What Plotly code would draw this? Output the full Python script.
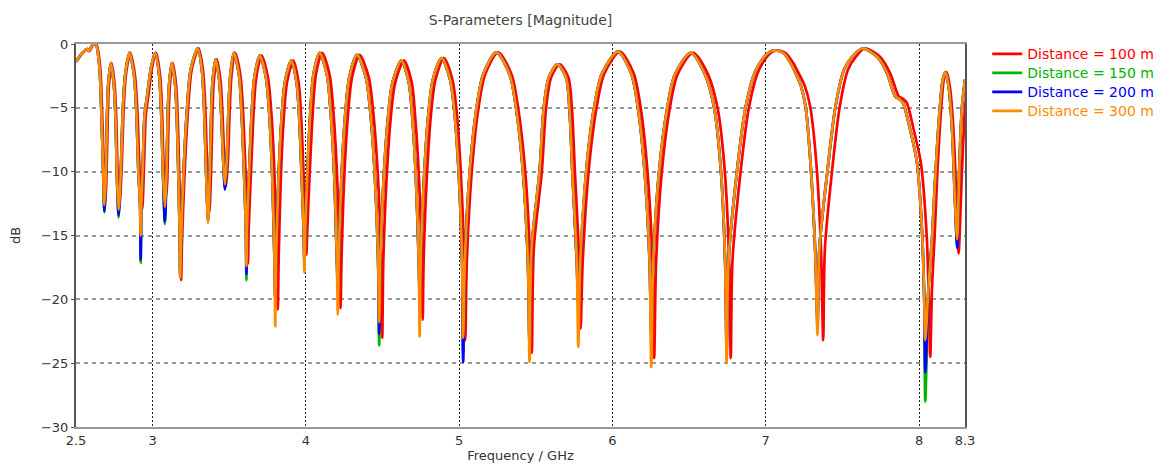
import plotly.graph_objects as go

# ---------------- data ----------------
# Non-dip points (flanks and peaks) shared by the 150/200/300 m curves
arch_freq_ref = [
    2.500, 2.541, 2.574, 2.584, 2.606, 2.628, 2.652, 2.664, 2.676,
    2.693, 2.702, 2.710, 2.727, 2.747, 2.758, 2.768,
    2.792, 2.806, 2.821, 2.849, 2.878, 2.893, 2.907, 2.918,
    2.927, 2.937, 2.948, 2.965, 2.990, 3.017, 3.042, 3.055, 3.067,
    3.089, 3.098, 3.107, 3.125, 3.147, 3.158, 3.169, 3.177,
    3.186, 3.203, 3.226, 3.248, 3.294, 3.321, 3.335, 3.348,
    3.372, 3.382, 3.391, 3.411, 3.435, 3.448, 3.460,
    3.484, 3.495, 3.507, 3.530, 3.563, 3.579, 3.596, 3.608,
    3.616, 3.629, 3.647, 3.664, 3.699, 3.739, 3.760, 3.780, 3.795,
    3.805, 3.821, 3.842, 3.863, 3.905, 3.939, 3.956, 3.973, 3.986,
    3.995, 4.010, 4.030, 4.049, 4.089, 4.137, 4.160, 4.184, 4.202,
    4.214, 4.233, 4.258, 4.283, 4.333, 4.391, 4.420, 4.449, 4.471,
    4.485, 4.507, 4.536, 4.565, 4.623, 4.671, 4.694, 4.718, 4.736,
    4.749, 4.771, 4.799, 4.828, 4.885, 4.941, 4.970, 4.998, 5.019,
    5.037, 5.069, 5.112, 5.156, 5.242, 5.329, 5.372, 5.416, 5.448,
    5.472, 5.524, 5.552, 5.585, 5.641, 5.697, 5.719, 5.738, 5.767,
    5.790, 5.829, 5.880, 5.932, 6.035, 6.122, 6.166, 6.209, 6.242,
    6.266, 6.304, 6.356, 6.407, 6.510, 6.604, 6.665, 6.708, 6.735,
    6.757, 6.812, 6.868, 6.930, 6.990, 7.030, 7.060, 7.115, 7.162, 7.195, 7.230, 7.260, 7.292, 7.322,
    7.350, 7.403, 7.455, 7.511, 7.565, 7.630, 7.727, 7.792, 7.844, 7.870, 7.895, 7.942, 7.987, 8.021, 8.034,
    8.062, 8.086, 8.108, 8.136, 8.155, 8.173, 8.195, 8.216, 8.236,
    8.262, 8.280, 8.300,
]

# Same flank/peak points for the 100 m curve (sits slightly to the right)
arch_freq_100 = [
    2.500, 2.543, 2.577, 2.588, 2.610, 2.632, 2.657, 2.669, 2.681,
    2.698, 2.707, 2.715, 2.732, 2.752, 2.763, 2.773,
    2.797, 2.811, 2.826, 2.854, 2.884, 2.900, 2.915, 2.926,
    2.935, 2.945, 2.956, 2.973, 2.997, 3.023, 3.048, 3.061, 3.073,
    3.095, 3.104, 3.113, 3.131, 3.153, 3.164, 3.175, 3.183,
    3.192, 3.210, 3.233, 3.255, 3.300, 3.328, 3.343, 3.356,
    3.380, 3.390, 3.399, 3.419, 3.443, 3.456, 3.468,
    3.492, 3.503, 3.515, 3.538, 3.572, 3.589, 3.606, 3.618,
    3.627, 3.641, 3.659, 3.676, 3.711, 3.752, 3.774, 3.795, 3.811,
    3.822, 3.836, 3.856, 3.877, 3.918, 3.952, 3.969, 3.986, 3.999,
    4.008, 4.025, 4.046, 4.065, 4.105, 4.154, 4.178, 4.202, 4.220,
    4.232, 4.251, 4.276, 4.301, 4.350, 4.410, 4.439, 4.469, 4.491,
    4.505, 4.526, 4.554, 4.583, 4.640, 4.690, 4.713, 4.738, 4.756,
    4.768, 4.789, 4.816, 4.845, 4.900, 4.956, 4.985, 5.012, 5.033,
    5.050, 5.082, 5.125, 5.169, 5.254, 5.342, 5.386, 5.431, 5.463,
    5.487, 5.539, 5.567, 5.600, 5.655, 5.712, 5.735, 5.755, 5.783,
    5.806, 5.845, 5.896, 5.947, 6.048, 6.138, 6.184, 6.228, 6.261,
    6.285, 6.322, 6.373, 6.424, 6.525, 6.624, 6.687, 6.733, 6.761,
    6.783, 6.836, 6.890, 6.950, 7.008, 7.045, 7.072, 7.128, 7.180, 7.215, 7.255, 7.290, 7.330, 7.360,
    7.386, 7.433, 7.483, 7.537, 7.588, 7.645, 7.745, 7.812, 7.868, 7.895, 7.920, 7.965, 8.012, 8.050, 8.064,
    8.085, 8.102, 8.120, 8.145, 8.162, 8.180, 8.203, 8.225, 8.246,
    8.280, 8.300, 8.320,
]

arch_db = [
    -1.4, -0.7, -0.4, -0.55, -0.1, 0.0, -1.7, -4.8, -9.5,
    -10.8, -5.9, -3.2, -1.5, -3.2, -5.9, -10.8,
    -10.0, -5.1, -2.4, -0.7, -2.4, -5.1, -10.0, -12.5,
    -12.5, -9.0, -5.5, -4.0, -1.8, -0.7, -2.4, -5.1, -10.0,
    -10.8, -5.9, -3.2, -1.5, -3.2, -5.9, -10.8, -15.3,
    -15.3, -9.7, -4.8, -2.0, -0.35, -2.0, -4.8, -9.7,
    -10.5, -5.6, -2.9, -1.2, -2.9, -5.6, -9.0,
    -9.0, -5.1, -2.4, -0.7, -2.4, -5.1, -10.0, -14.4,
    -14.4, -10.2, -5.3, -2.6, -0.9, -2.6, -5.3, -10.2, -17.0,
    -17.0, -10.6, -5.7, -3.0, -1.3, -3.0, -5.7, -10.6, -14.9,
    -14.9, -10.0, -5.1, -2.4, -0.7, -2.4, -5.1, -10.0, -17.0,
    -17.0, -10.2, -5.3, -2.6, -0.85, -2.6, -5.3, -10.2, -17.0,
    -17.0, -10.6, -5.7, -3.0, -1.3, -3.0, -5.7, -10.6, -17.0,
    -17.0, -10.4, -5.5, -2.8, -1.1, -2.8, -5.5, -10.4, -17.0,
    -17.0, -10.0, -5.1, -2.4, -0.65, -2.4, -5.1, -10.0, -17.0,
    -16.0, -10.0, -5.0, -2.6, -1.6, -2.6, -5.0, -10.0, -17.0,
    -17.0, -9.9, -5.0, -2.3, -0.6, -2.3, -5.0, -9.9, -17.0,
    -17.0, -10.0, -5.1, -2.4, -0.7, -2.4, -5.1, -10.0, -17.0,
    -17.0, -10.0, -5.0, -2.2, -1.0, -0.6, -0.5, -0.7, -1.5, -2.3, -3.3, -4.9, -9.3, -16.0,
    -16.0, -9.9, -4.9, -2.0, -1.0, -0.35, -1.0, -2.3, -4.1, -4.3, -4.6, -6.7, -9.3, -15.0, -20.0,
    -19.0, -15.0, -10.0, -5.0, -2.8, -2.2, -3.5, -6.8, -12.7,
    -10.0, -5.0, -2.8,
]

# Notch (dip) positions and depths
dip_freq_ref = [2.685, 2.778, 2.922, 3.080, 3.180, 3.362, 3.472, 3.612, 3.800, 3.990, 4.208,
                4.478, 4.742, 5.026, 5.459, 5.777, 6.253, 6.745, 7.338, 8.041, 8.249]
dip_freq_100 = [2.690, 2.783, 2.930, 3.086, 3.186, 3.370, 3.480, 3.622, 3.817, 4.003, 4.226,
                4.498, 4.762, 5.040, 5.474, 5.792, 6.272, 6.772, 7.375, 8.073, 8.258]
dip_db_100 = [-12.7, -12.8, -13.0, -12.0, -18.5, -13.2, -11.1, -17.2, -20.8, -16.5, -20.7,
              -23.0, -21.6, -23.2, -24.2, -22.3, -24.6, -24.6, -23.2, -24.5, -16.4]
dip_db_150 = [-13.2, -13.6, -17.1, -14.1, -18.3, -13.8, -11.3, -18.5, -20.0, -17.2, -19.0,
              -23.6, -19.5, -24.2, -23.3, -20.5, -23.0, -23.5, -21.5, -28.0, -15.8]
dip_db_200 = [-13.1, -13.4, -16.9, -13.9, -18.2, -13.8, -11.4, -18.0, -20.0, -17.0, -18.8,
              -22.7, -19.5, -24.9, -23.5, -20.3, -22.6, -24.2, -22.0, -25.7, -16.0]
dip_db_300 = [-12.6, -13.0, -15.0, -12.8, -18.3, -14.0, -11.0, -17.4, -22.1, -17.9, -21.2,
              -21.8, -22.9, -23.0, -24.9, -23.7, -25.3, -25.0, -22.8, -23.2, -15.3]

series_names = ["Distance = 100 m", "Distance = 150 m", "Distance = 200 m", "Distance = 300 m"]
series_colors = ["#ff0000", "#00b400", "#0000ff", "#ff8c00"]

x_tick_vals = [2.5, 3, 4, 5, 6, 7, 8, 8.3]
x_tick_text = ["2.5", "3", "4", "5", "6", "7", "8", "8.3"]
y_tick_vals = [0, -5, -10, -15, -20, -25, -30]


def build(arch_f, arch_d, dip_f, dip_d):
    pts = sorted(zip(list(arch_f) + list(dip_f), list(arch_d) + list(dip_d)))
    return [p[0] for p in pts], [p[1] for p in pts]


series_data = [
    build(arch_freq_100, arch_db, dip_freq_100, dip_db_100),
    build(arch_freq_ref, arch_db, dip_freq_ref, dip_db_150),
    build(arch_freq_ref, arch_db, dip_freq_ref, dip_db_200),
    build(arch_freq_ref, arch_db, dip_freq_ref, dip_db_300),
]

FONT = "DejaVu Sans, Verdana, sans-serif"
W, H = 1163, 457  # page body keeps an 8 px margin inside the 1171x465 window

fig = go.Figure()
for (xs, ys), name, color in zip(series_data, series_names, series_colors):
    fig.add_trace(go.Scatter(
        x=xs, y=ys, mode="lines",
        name=f'<span style="color:{color};font-size:14px">{name}</span>',
        line=dict(color=color, width=2.7, shape="spline", smoothing=0.8),
    ))

fig.update_layout(
    width=W, height=H,
    margin=dict(l=68, r=204, t=36, b=38),
    paper_bgcolor="white", plot_bgcolor="white",
    font=dict(family=FONT, size=12, color="#333"),
    title=dict(text="S-Parameters [Magnitude]", x=0.5, xref="paper",
               y=1 - 12 / H, yref="container", yanchor="middle",
               font=dict(family=FONT, size=14, color="#444")),
    showlegend=True,
    legend=dict(x=1.025, xanchor="left", y=1.012, yanchor="top",
                font=dict(family=FONT, size=12), bgcolor="rgba(0,0,0,0)",
                tracegroupgap=0),
)

fig.update_xaxes(
    range=[2.5, 8.3], tickmode="array", tickvals=x_tick_vals, ticktext=x_tick_text,
    showgrid=True, gridcolor="#222", gridwidth=1, griddash="2px,2px",
    showline=True, linecolor="#999", linewidth=2, mirror=True,
    ticks="", zeroline=False,
    tickfont=dict(family=FONT, size=13, color="#333"),
    title=dict(text="Frequency / GHz", standoff=4,
               font=dict(family=FONT, size=13, color="#333")),
    automargin=False,
)
fig.update_yaxes(
    range=[-30, 0], tickmode="array", tickvals=y_tick_vals,
    showgrid=True, gridcolor="#999", gridwidth=1.5, griddash="4px,4px",
    showline=True, linecolor="#555", linewidth=2, mirror=True,
    ticks="outside", ticklen=3, tickcolor="#555", zeroline=False,
    tickfont=dict(family=FONT, size=13, color="#333"),
    title=dict(text="dB", standoff=20,
               font=dict(family=FONT, size=13, color="#333")),
    automargin=False,
)

fig.write_html("out.html")
